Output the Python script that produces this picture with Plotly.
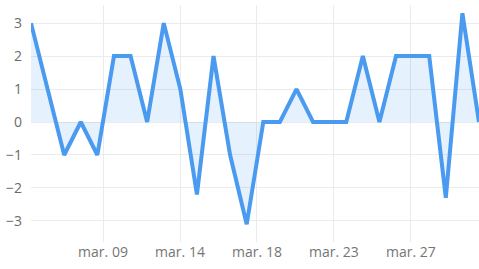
import plotly.graph_objects as go
import pandas as pd

start_date = "2024-03-05"
values = [3, 1, -1, 0, -1, 2, 2, 0, 3, 1, -2.2, 2, -1, -3.1, 0, 0, 1, 0, 0, 0,
          2, 0, 2, 2, 2, -2.3, 3.3, 0]
dates = pd.date_range(start_date, periods=len(values), freq="D")

tick_labels = ["mar. 09", "mar. 14", "mar. 18", "mar. 23", "mar. 27"]
tick_offsets_days = [4.34, 8.98, 13.62, 18.26, 22.9]
tick_vals = [dates[0] + pd.Timedelta(days=d) for d in tick_offsets_days]
y_ticks = [-3, -2, -1, 0, 1, 2, 3]

fig = go.Figure()
fig.add_trace(go.Scatter(
    x=dates, y=values, mode="lines",
    line=dict(color="#4a9af0", width=4),
    fill="tozeroy", fillcolor="rgba(74,154,240,0.14)",
    hoverinfo="skip", cliponaxis=False,
))

fig.update_layout(
    width=479, height=269,
    margin=dict(l=31, r=0, t=5, b=27),
    paper_bgcolor="white", plot_bgcolor="white",
    showlegend=False,
    font=dict(family="Open Sans, Arial, sans-serif", size=14, color="#6b6b6b"),
)
fig.update_xaxes(
    range=[dates[0], dates[-1]],
    tickvals=tick_vals, ticktext=tick_labels,
    showgrid=True, gridcolor="#ebebeb", gridwidth=1,
    zeroline=False, showline=False, ticks="",
    tickfont=dict(size=14, color="#757575"),
)
fig.update_yaxes(
    range=[-3.64, 3.55],
    tickvals=y_ticks,
    showgrid=True, gridcolor="#ebebeb", gridwidth=1,
    zeroline=False, showline=False, ticks="",
    ticklabelstandoff=8,
    tickfont=dict(size=14, color="#6b6b6b"),
)

fig.write_html(
    "out.html",
    config={"displayModeBar": False, "staticPlot": True},
    post_script="document.body.style.margin='0';document.body.style.padding='0';",
)
